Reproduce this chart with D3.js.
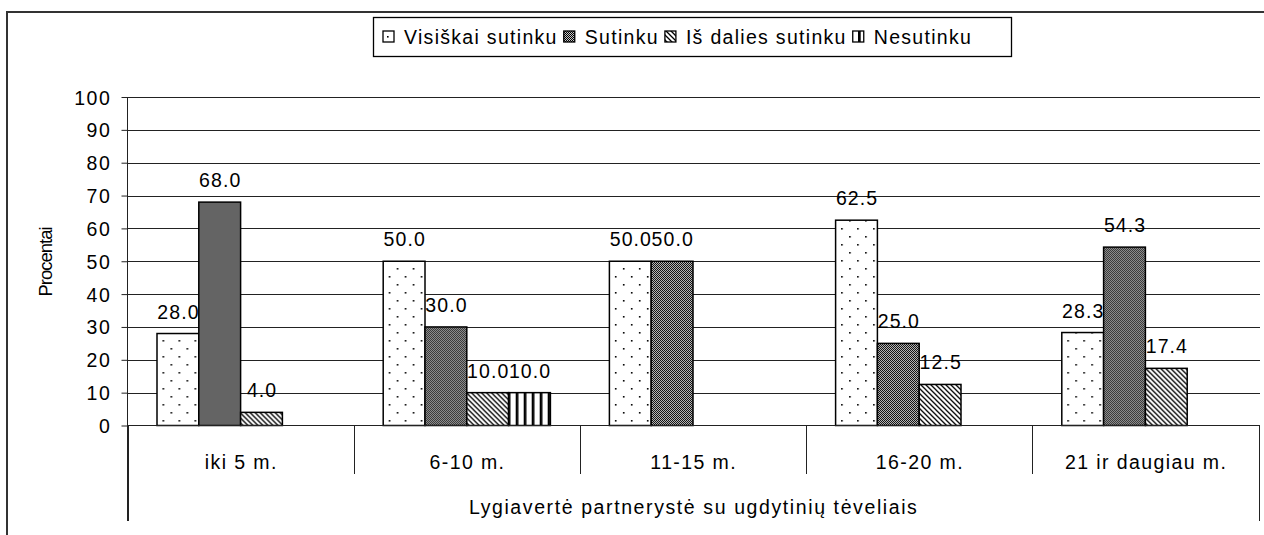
<!DOCTYPE html>
<html><head><meta charset="utf-8">
<script src="https://cdn.jsdelivr.net/npm/d3@7"></script>
<style>
html,body{margin:0;padding:0;background:#fff;}
text{font-family:"Liberation Sans",Arial,sans-serif;fill:#000;}
</style></head>
<body>
<svg id="chart" width="1264" height="535"></svg>
<script>
const categories = ["iki 5 m.", "6-10 m.", "11-15 m.", "16-20 m.", "21 ir daugiau m."];
const seriesNames = ["Visiškai sutinku", "Sutinku", "Iš dalies sutinku", "Nesutinku"];
const visiskai = [28.0, 50.0, 50.0, 62.5, 28.3];
const sutinku = [68.0, 30.0, 50.0, 25.0, 54.3];
const isDalies = [4.0, 10.0, null, 12.5, 17.4];
const nesutinku = [null, 10.0, null, null, null];
const yTicks = [0, 10, 20, 30, 40, 50, 60, 70, 80, 90, 100];
const yTitle = "Procentai";
const xTitle = "Lygiavertė partnerystė su ugdytinių tėveliais";

const seriesValues = [visiskai, sutinku, isDalies, nesutinku];
const patterns = ["pDots", "pCheck", "pDiag", "pVert"];

const svg = d3.select("#chart");
const defs = svg.append("defs");
// dots
const pd = defs.append("pattern").attr("id","pDots").attr("patternUnits","userSpaceOnUse").attr("width",16).attr("height",16);
pd.append("rect").attr("width",16).attr("height",16).attr("fill","#fff");
pd.append("rect").attr("x",3).attr("y",4).attr("width",1.6).attr("height",1.6).attr("fill","#000");
pd.append("rect").attr("x",11).attr("y",12).attr("width",1.6).attr("height",1.6).attr("fill","#000");
// checker
const pc = defs.append("pattern").attr("id","pCheck").attr("patternUnits","userSpaceOnUse").attr("width",2).attr("height",2);
pc.append("rect").attr("width",2).attr("height",2).attr("fill","#c8c8c8");
pc.append("rect").attr("x",0).attr("y",0).attr("width",1).attr("height",1).attr("fill","#000");
pc.append("rect").attr("x",1).attr("y",1).attr("width",1).attr("height",1).attr("fill","#000");
// diagonal
const pg = defs.append("pattern").attr("id","pDiag").attr("patternUnits","userSpaceOnUse").attr("width",5).attr("height",5);
pg.append("rect").attr("width",5).attr("height",5).attr("fill","#fff");
pg.append("path").attr("d","M0,0L5,5M-1,4L1,6M4,-1L6,1").attr("stroke","#000").attr("stroke-width",1.3);
// vertical
const pv = defs.append("pattern").attr("id","pVert").attr("patternUnits","userSpaceOnUse").attr("width",8).attr("height",8);
pv.append("rect").attr("width",8).attr("height",8).attr("fill","#fff");
pv.append("rect").attr("x",2).attr("y",0).attr("width",2.7).attr("height",8).attr("fill","#000");

// outer border
svg.append("rect").attr("x",7).attr("y",12).attr("width",1275).attr("height",540)
  .attr("fill","none").attr("stroke","#333").attr("stroke-width",2);

const pL = 127.5, pR = 1258.5, pT = 97, pB = 425.5;
const x0 = d3.scaleBand().domain(categories).range([pL, pR]).paddingInner(0).paddingOuter(0);
const x1 = d3.scaleBand().domain(seriesNames).range([29.5, x0.bandwidth() - 29.5]).padding(0);
const y = d3.scaleLinear().domain([0, 100]).range([pB, pT]);

// gridlines
svg.append("g").selectAll("line").data(yTicks.filter(d => d > 0)).join("line")
  .attr("x1", pL).attr("x2", 1260).attr("y1", d => Math.round(y(d)) + 0.5).attr("y2", d => Math.round(y(d)) + 0.5)
  .attr("stroke", "#222").attr("stroke-width", 1);

// y axis
const yAxis = svg.append("g").attr("transform", `translate(${pL},0)`)
  .call(d3.axisLeft(y).tickValues(yTicks).tickSize(6).tickPadding(10).tickFormat(d3.format("d")));
yAxis.select(".domain").remove();
yAxis.selectAll(".tick line").attr("stroke", "#222");
yAxis.selectAll(".tick text").attr("font-size", "19.5px").attr("letter-spacing", "1.6px")
  .attr("font-family", '"Liberation Sans",Arial,sans-serif').attr("dy", "0.36em").attr("fill", "#000");
svg.append("line").attr("x1", pL).attr("x2", pL).attr("y1", pT).attr("y2", 521).attr("stroke", "#222");

// y title
svg.append("text").attr("transform", "translate(52,262) rotate(-90)").attr("text-anchor", "middle")
  .attr("font-size", "18.5px").attr("letter-spacing", "-1px").text(yTitle);

// bars
const groups = svg.append("g").selectAll("g").data(categories).join("g")
  .attr("transform", d => `translate(${x0(d)},0)`);
groups.each(function(cat, ci) {
  const g = d3.select(this);
  seriesNames.forEach((s, si) => {
    const v = seriesValues[si][ci];
    if (v === null) return;
    g.append("rect").attr("x", x1(s)).attr("y", y(v)).attr("width", x1.bandwidth()).attr("height", y(0) - y(v))
      .attr("fill", `url(#${patterns[si]})`).attr("stroke", "#000").attr("stroke-width", 1.5);
    g.append("text").attr("x", x1(s) + x1.bandwidth() / 2 + 0.6).attr("y", y(v) - 15)
      .attr("text-anchor", "middle").attr("font-size", "19.5px").attr("letter-spacing", "1.1px")
      .text(v.toFixed(1));
  });
});

// x axis line
svg.append("line").attr("x1", pL).attr("x2", 1260).attr("y1", pB).attr("y2", pB).attr("stroke", "#222").attr("stroke-width", 1.2);
// category separators
const bounds = categories.map(c => x0(c)).concat([pR]);
svg.append("g").selectAll("line").data(bounds).join("line")
  .attr("x1", d => Math.round(d) + 0.5).attr("x2", d => Math.round(d) + 0.5)
  .attr("y1", pB).attr("y2", (d, i) => (i === 0 || i === bounds.length - 1) ? 521 : 474)
  .attr("stroke", "#222");
// category labels
svg.append("g").selectAll("text").data(categories).join("text")
  .attr("x", d => x0(d) + x0.bandwidth() / 2 + 0.7).attr("y", 469).attr("text-anchor", "middle")
  .attr("font-size", "19.5px").attr("letter-spacing", "1.4px").text(d => d);
// x title
svg.append("text").attr("x", (pL + pR) / 2 + 0.7).attr("y", 514).attr("text-anchor", "middle")
  .attr("font-size", "19.5px").attr("letter-spacing", "1.6px").text(xTitle);

// legend
const lg = svg.append("g");
lg.append("rect").attr("x", 373.5).attr("y", 17.5).attr("width", 638).attr("height", 39)
  .attr("fill", "#fff").attr("stroke", "#000").attr("stroke-width", 1.3);
let lx = 383;
seriesNames.forEach((s, si) => {
  lg.append("rect").attr("x", lx).attr("y", 31).attr("width", 11).attr("height", 11)
    .attr("fill", `url(#${patterns[si]})`).attr("stroke", "#000").attr("stroke-width", 1.3);
  const t = lg.append("text").attr("x", lx + 21).attr("y", 44).attr("font-size", "19.5px").attr("letter-spacing", "1.3px").text(s);
  lx = lx + 21 + t.node().getComputedTextLength() + 6;
});
</script>
</body></html>
